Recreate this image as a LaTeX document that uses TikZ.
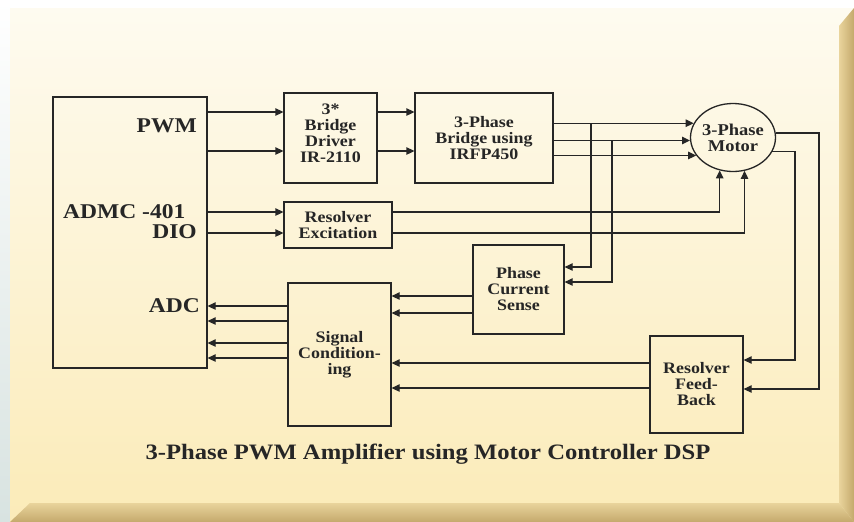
\documentclass[tikz,border=0pt]{standalone}
\usepackage{fontspec}
\setmainfont{Liberation Serif}[FakeStretch=1.12]
\usetikzlibrary{positioning,shapes.geometric,arrows.meta}
\definecolor{ink}{HTML}{262626}
\definecolor{side}{HTML}{D8E3E1}
\definecolor{paneltop}{HTML}{FEFBF0}
\definecolor{panel}{HTML}{FDF3CF}
\definecolor{panelbot}{HTML}{FBEBB8}
\definecolor{bevlight}{HTML}{E9D49C}
\definecolor{bevdark}{HTML}{C4A96C}

\tikzset{
  blk/.style={draw=ink, line width=1.3pt, align=center, inner sep=0pt, text=ink,
    font=\bfseries\fontsize{16}{16}\selectfont},
  lbl/.style={inner sep=0pt, text=ink, font=\bfseries\fontsize{21}{22}\selectfont},
  arr/.style={draw=ink, line width=1.3pt, -{Triangle[length=8pt,width=7.5pt]}},
}

\begin{document}
\begin{tikzpicture}[x=1pt, y=-1pt]
  % panel
  \useasboundingbox (0,0) rectangle (854,522);
  \fill[white] (0,0) rectangle (854,522);
  \shade[top color=white, bottom color=side] (0,0) rectangle (10,522);
  \shade[top color=paneltop, middle color=panel, bottom color=panelbot] (10,8) rectangle (854,522);
  \shade[left color=bevlight, right color=bevdark] (839,26) -- (854,8) -- (854,522) -- (839,503) -- cycle;
  \shade[top color=bevlight, bottom color=bevdark] (10,522) -- (30,503) -- (839,503) -- (854,522) -- cycle;

  % blocks
  \node[blk, minimum width=154pt, minimum height=271pt] (adm) at (130,232.5) {};
  \node[blk, minimum width=93pt, minimum height=90pt] (drv) at (330.5,138) {3*\\Bridge\\Driver\\IR-2110\\[-6pt]};
  \node[blk, minimum width=138pt, minimum height=90pt] (brg) at (484,138) {3-Phase\\Bridge using\\IRFP450};
  \node[blk, ellipse, minimum width=85pt, minimum height=68pt, inner sep=-4pt,
    font=\bfseries\fontsize{16.5}{16}\selectfont] (mot) at (733,137.5) {3-Phase\\Motor};
  \node[blk, minimum width=108pt, minimum height=46pt] (exc) at (338,225) {Resolver\\Excitation};
  \node[blk, minimum width=91pt, minimum height=89pt] (pcs) at (518.5,289.5) {Phase\\Current\\Sense};
  \node[blk, minimum width=103pt, minimum height=143pt] (sig) at (339.5,354.5) {Signal\\Condition-\\ing};
  \node[blk, minimum width=93pt, minimum height=97pt] (rfb) at (696.5,384.5) {Resolver\\Feed-\\Back};

  % labels
  \node[lbl, anchor=east] (pwm) at (197,126) {PWM};
  \node[lbl, anchor=west] (admc) at (63,212) {ADMC -401};
  \node[lbl, anchor=east] (dio) at (197,232) {DIO};
  \node[lbl, anchor=east] (adc) at (200,306) {ADC};
  \node[inner sep=0pt, text=ink, font=\bfseries\fontsize{22}{24}\selectfont] (cap) at (428,454)
    {3-Phase PWM Amplifier using Motor Controller DSP};

  % forward path
  \foreach \y in {112,151} {
    \draw[arr] (adm.east |- 0,\y) -- (drv.west |- 0,\y);
    \draw[arr] (drv.east |- 0,\y) -- (brg.west |- 0,\y);
  }
  \foreach \a in {160,184,206}
    \draw[arr] (brg.east |- mot.\a) -- (mot.\a);

  % current taps
  \coordinate (k1) at (591,267);
  \coordinate (k2) at (612,282);
  \draw[arr] (k1 |- mot.160) -- (k1) -- (pcs.east |- k1);
  \draw[arr] (k2 |- mot.184) -- (k2) -- (pcs.east |- k2);

  % resolver excitation
  \foreach \y in {212,233}
    \draw[arr] (adm.east |- 0,\y) -- (exc.west |- 0,\y);
  \draw[arr] (exc.east |- 0,212) -| (mot.248);
  \draw[arr] (exc.east |- 0,233) -| (mot.289);

  % resolver feedback
  \coordinate (c1) at (819,389);
  \coordinate (c2) at (795,360);
  \draw[arr] (mot.6) -| (c1) -- (rfb.east |- c1);
  \draw[arr] (mot.340) -| (c2) -- (rfb.east |- c2);

  % back to the ADC
  \foreach \y in {306,321,343,358}
    \draw[arr] (sig.west |- 0,\y) -- (adm.east |- 0,\y);
  \foreach \y in {296,313}
    \draw[arr] (pcs.west |- 0,\y) -- (sig.east |- 0,\y);
  \foreach \y in {363,388}
    \draw[arr] (rfb.west |- 0,\y) -- (sig.east |- 0,\y);
\end{tikzpicture}
\end{document}
